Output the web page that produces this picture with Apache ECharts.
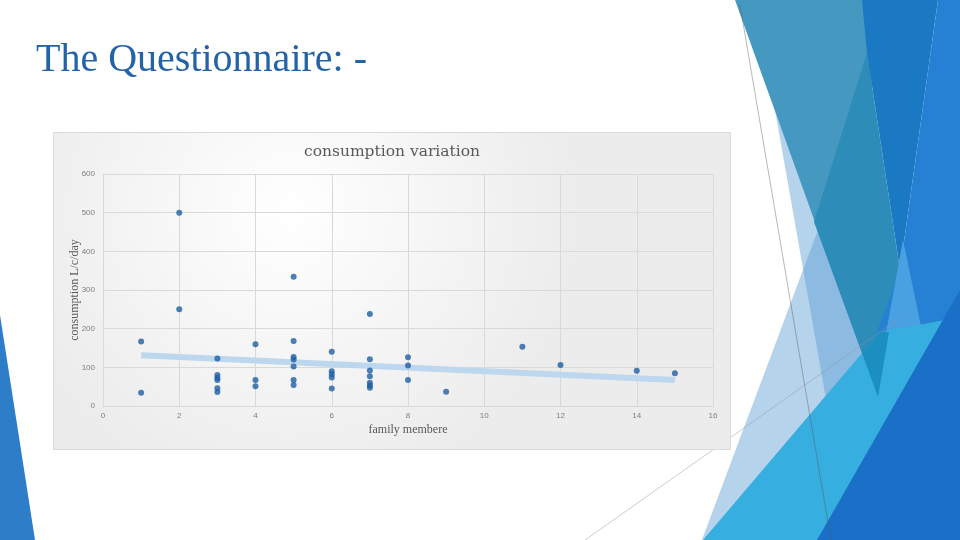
<!DOCTYPE html>
<html>
<head>
<meta charset="utf-8">
<script src="https://cdn.jsdelivr.net/npm/echarts@6/dist/echarts.min.js"></script>
<style>
html,body{margin:0;padding:0;background:#ffffff;}
#main{width:960px;height:540px;}
</style>
</head>
<body>
<div id="main"></div>
<script>
// ---- data ----
var familyMembers = [1,1, 2,2, 3,3,3,3,3,3, 4,4,4, 5,5,5,5,5,5,5, 6,6,6,6,6, 7,7,7,7,7,7,7, 8,8,8, 9, 11, 12, 14, 15];
var consumption   = [167,34, 500,250, 123,80,73,67,46,36, 160,67,51, 334,168,127,120,102,67,54, 140,90,82,74,45, 238,121,92,77,60,53,47, 126,105,67, 37, 153, 106, 91, 85];
var trendX = [1, 15];
var trendY = [131, 67];
var xTicks = [0,2,4,6,8,10,12,14,16];
var yTicks = [0,100,200,300,400,500,600];

var slideTitle = 'The Questionnaire: -';
var chartTitle = 'consumption variation';
var xTitle = 'family membere';
var yTitle = 'consumption L/c/day';

var points = familyMembers.map(function(x,i){ return [x, consumption[i]]; });
var trend = trendX.map(function(x,i){ return [x, trendY[i]]; });

function poly(pts, fill, z){ return {type:'polygon', z:z, silent:true, shape:{points:pts}, style:{fill:fill, stroke:null}}; }

var chart = echarts.init(document.getElementById('main'), null, {renderer:'canvas'});
chart.setOption({
  animation:false,
  backgroundColor:'#ffffff',
  graphic:[
    poly([[0,315],[35,540],[0,540]], '#2e7dc8', -30),
    poly([[775,110],[835,450],[890,420]], 'rgba(91,155,213,0.445)', -30),
    poly([[818,230],[700,545],[900,545],[880,395]], 'rgba(91,155,213,0.445)', -30),
    poly([[735,0],[870,0],[878,397]], '#4599c1', -29),
    poly([[867,53],[814,222],[878,397],[900,270]], '#2e8cb9', -28),
    poly([[862,0],[938,0],[900,270],[867,53]], '#1b79c4', -28),
    poly([[938,0],[960,0],[960,540],[800,540],[900,270]], '#2680d3', -28),
    poly([[903,240],[926,350],[880,440],[872,410]], '#4aa1e2', -27),
    poly([[703,540],[880,332],[945,320],[830,540]], '#36aee0', -26),
    poly([[862,353],[878,397],[889,332],[880,332]], '#1a8fc0', -25),
    poly([[817,540],[960,290],[960,540]], '#1a6fc7', -24),
    {type:'line', z:-20, silent:true, shape:{x1:740,y1:5,x2:831,y2:540}, style:{stroke:'rgba(90,90,90,0.55)', lineWidth:0.8}},
    {type:'line', z:-20, silent:true, shape:{x1:585,y1:540,x2:900,y2:318}, style:{stroke:'rgba(150,150,150,0.6)', lineWidth:0.8}},
    {type:'rect', z:-5, silent:true, shape:{x:53.5,y:132.5,width:677,height:317},
     style:{fill:{type:'radial',x:0.35,y:0.25,r:0.9,colorStops:[{offset:0,color:'#ffffff'},{offset:1,color:'#ececec'}]},
            stroke:'#d9d9d9', lineWidth:1}},
    {type:'text', z:10, left:36, top:40, style:{text:slideTitle, fill:'#2463a6', font:'40px "Liberation Serif", "Times New Roman", serif'}},
    {type:'text', z:10, style:{x:392, y:152, text:chartTitle, fill:'#595959', align:'center', verticalAlign:'middle', font:'15.5px "DejaVu Serif", serif'}}
  ],
  grid:{left:103, top:174, width:610, height:232, containLabel:false},
  xAxis:{
    type:'value', min:xTicks[0], max:xTicks[xTicks.length-1], interval:2,
    name:xTitle, nameLocation:'middle', nameGap:18, nameMoveOverlap:false,
    nameTextStyle:{color:'#595959', fontFamily:'Liberation Serif', fontSize:12},
    axisLine:{show:true, lineStyle:{color:'#d9d9d9'}},
    axisTick:{show:false},
    axisLabel:{color:'#7f7f7f', fontSize:8, fontFamily:'Liberation Sans', margin:6},
    splitLine:{show:true, lineStyle:{color:'#d9d9d9'}}
  },
  yAxis:{
    type:'value', min:yTicks[0], max:yTicks[yTicks.length-1], interval:100,
    name:yTitle, nameLocation:'middle', nameGap:22, nameRotate:90, nameMoveOverlap:false,
    nameTextStyle:{color:'#595959', fontFamily:'Liberation Serif', fontSize:12},
    axisLine:{show:true, lineStyle:{color:'#d9d9d9'}},
    axisTick:{show:false},
    axisLabel:{color:'#7f7f7f', fontSize:8, fontFamily:'Liberation Sans', margin:8},
    splitLine:{show:true, lineStyle:{color:'#d9d9d9'}}
  },
  series:[
    {type:'line', data:trend, symbol:'none', z:2,
     lineStyle:{color:'#bdd7ee', width:6, cap:'butt'}},
    {type:'scatter', data:points, symbol:'circle', symbolSize:6, z:3,
     itemStyle:{color:'#1f5fa3'}}
  ]
});
</script>
</body>
</html>
